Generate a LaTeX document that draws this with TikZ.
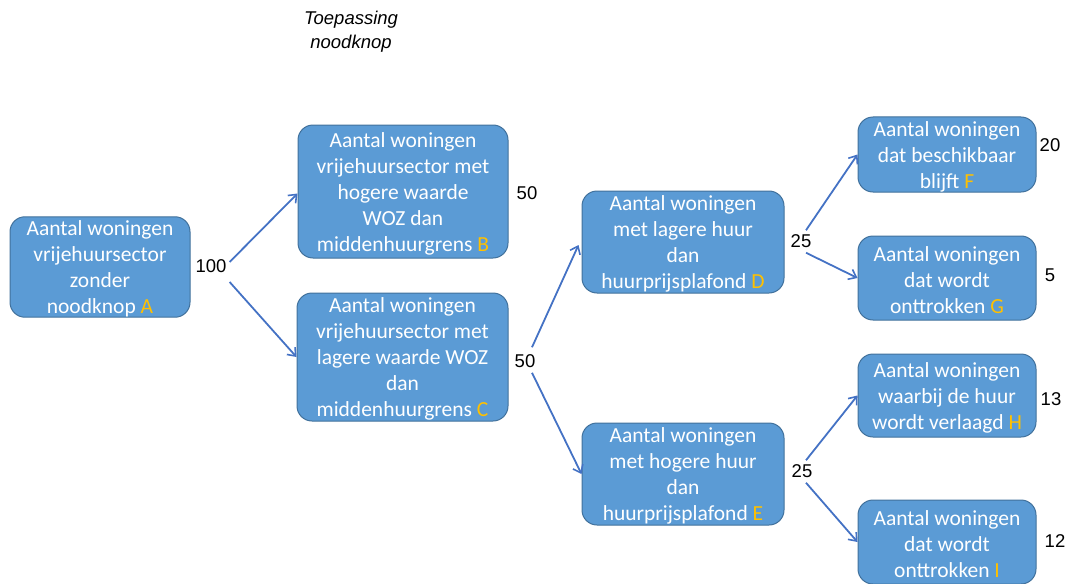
\documentclass[tikz,border=0pt]{standalone}
\usepackage{fontspec}
\setmainfont{Liberation Sans}
\newfontfamily\boxfont{Carlito}
\usetikzlibrary{arrows.meta,calc}
\definecolor{boxfill}{HTML}{5B9BD5}
\definecolor{boxline}{HTML}{41719C}
\definecolor{arrowblue}{HTML}{4472C4}
\definecolor{lettergold}{HTML}{FFC000}
\newcommand{\lt}[1]{\textcolor{lettergold}{#1}}
\newcommand{\fl}{\rule{0pt}{19pt}}
\begin{document}
\begin{tikzpicture}[x=1pt,y=-1pt,
  box/.style={draw=boxline, line width=1pt, fill=boxfill, rounded corners=15pt,
    text=white, align=center, inner sep=0pt,
    font=\boxfont\fontsize{21.5}{26}\selectfont},
  num/.style={inner sep=1pt, font=\fontsize{18.5}{20}\selectfont},
  conn/.style={draw=arrowblue, line width=1.8pt, -{Straight Barb[length=7pt,width=11pt,line width=1.6pt]}}
]
\useasboundingbox (0,0) rectangle (1067,583);
\node[font=\itshape\fontsize{18.5}{24}\selectfont, align=center] (title) at (351,32) {Toepassing\\noodknop};

\node[box, minimum width=180pt, minimum height=98pt] (A) at (100,267) {\fl Aantal woningen\\vrijehuursector\\zonder\\noodknop \lt{A}};
\node[box, minimum width=210pt, minimum height=133pt] (B) at (403,191.5) {\fl Aantal woningen\\vrijehuursector met\\hogere waarde\\WOZ dan\\middenhuurgrens \lt{B}};
\node[box, minimum width=211pt, minimum height=128pt] (C) at (402.5,357) {\fl Aantal woningen\\vrijehuursector met\\lagere waarde WOZ\\dan\\middenhuurgrens \lt{C}};
\node[box, minimum width=202pt, minimum height=102pt] (D) at (683,242) {\fl Aantal woningen\\met lagere huur\\dan\\huurprijsplafond \lt{D}};
\node[box, minimum width=202pt, minimum height=102pt] (E) at (683,474) {\fl Aantal woningen\\met hogere huur\\dan\\huurprijsplafond \lt{E}};
\node[box, minimum width=178pt, minimum height=75pt] (F) at (947,154.5) {\fl Aantal woningen\\dat beschikbaar\\blijft \lt{F}};
\node[box, minimum width=178pt, minimum height=84pt] (G) at (947,278) {\fl Aantal woningen\\dat wordt\\onttrokken \lt{G}};
\node[box, minimum width=178pt, minimum height=83pt] (H) at (947,395.5) {\fl Aantal woningen\\waarbij de huur\\wordt verlaagd \lt{H}};
\node[box, minimum width=178pt, minimum height=84pt] (I) at (947,542) {\fl Aantal woningen\\dat wordt\\onttrokken \lt{I}};

\node[num] (n100) at (211,266) {100};
\node[num] (nB) at (527,193) {50};
\node[num] (nC) at (525,361) {50};
\node[num] (nD) at (801,241) {25};
\node[num] (nE) at (802,471) {25};
\node[num] (nF) at (1050,145) {20};
\node[num] (nG) at (1050,275) {5};
\node[num] (nH) at (1051,399) {13};
\node[num] (nI) at (1055,541) {12};

\draw[conn] ($(n100.east)+(2,-4)$) -- ([yshift=-2pt]B.west);
\draw[conn] ($(n100.east)+(2,16)$) -- (C.west);
\draw[conn] ($(nC.north)+(7,-6)$) -- ([xshift=-3pt,yshift=-3pt]D.west);
\draw[conn] ($(nC.south)+(7,4)$) -- (E.west);
\draw[conn] ($(nD.north)+(5,-3)$) -- (F.west);
\draw[conn] ($(nD.south)+(5,4)$) -- (G.west);
\draw[conn] ($(nE.north)+(4,-3)$) -- (H.west);
\draw[conn] ($(nE.south)+(4,4)$) -- (I.west);
\end{tikzpicture}
\end{document}
